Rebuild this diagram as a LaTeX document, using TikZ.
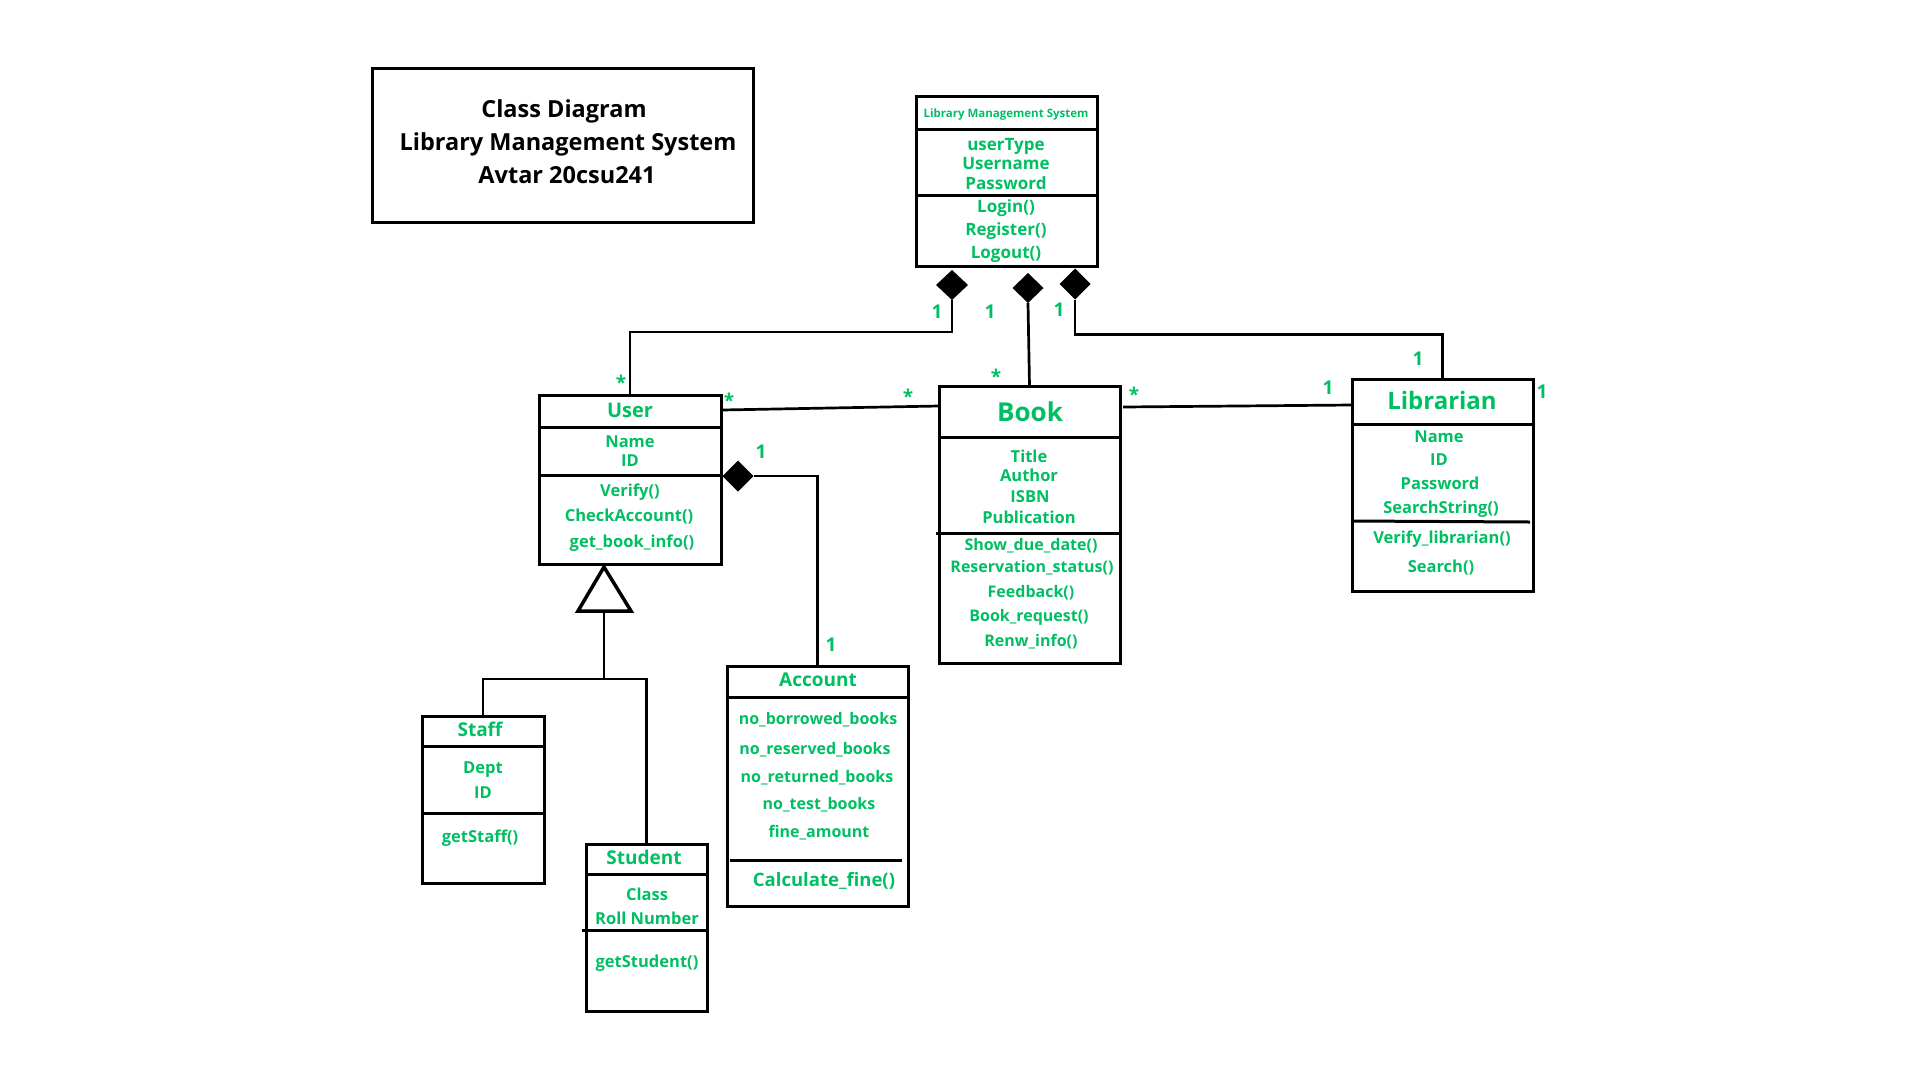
\documentclass[tikz,border=0pt]{standalone}
\usepackage{fontspec}
\setmainfont{Open Sans}
\usetikzlibrary{shapes.geometric,calc}
\definecolor{umlgreen}{HTML}{00BF63}
\tikzset{
  box/.style={draw=black, line width=3pt, fill=none, inner sep=0pt, outer sep=0pt},
  conn/.style={draw=black, line width=2.7pt},
  sepline/.style={draw=black, line width=3pt},
  dmd/.style={shape=diamond, fill=black, draw=none, inner sep=0pt, outer sep=0pt},
  gt/.style={text=umlgreen, inner sep=0pt, anchor=base},
  bt/.style={text=black, inner sep=0pt, anchor=base},
}
\newcommand\gtx[5]{\node[gt, font=\fontsize{#4}{#4}\selectfont\bfseries] (#1) at (#2,{#3+0.36*#4}) {#5};}
\newcommand\mstar[4]{\node[gt, font=\fontsize{#4}{#4}\selectfont\bfseries] (#1) at (#2,{#3+0.55*#4}) {*};}
\newcommand\umlbox[5]{\node[box, minimum width={(#4)-(#2)}, minimum height={(#5)-(#3)}] (#1) at ({((#2)+(#4))/2},{((#3)+(#5))/2}) {};}
\begin{document}
\begin{tikzpicture}[x=1pt,y=-1pt]
\useasboundingbox (0,0) rectangle (1920,1080);
\fill[white] (0,0) rectangle (1920,1080);

% title box
\umlbox{title}{372}{68}{753}{222}
\node[bt, font=\fontsize{23.5}{23.5}\selectfont\bfseries] (t1) at (564,117) {Class Diagram};
\node[bt, font=\fontsize{23.5}{23.5}\selectfont\bfseries] (t2) at (568,150) {Library Management System};
\node[bt, font=\fontsize{23.5}{23.5}\selectfont\bfseries] (t3) at (567,183) {Avtar 20csu241};

% LMS
\umlbox{lms}{916}{96}{1097}{266}
\draw[sepline] (916,129) -- (1097,129);
\draw[sepline] (916,195) -- (1097,195);
\gtx{lmsT}{1006}{113}{11.5}{Library Management System}
\gtx{lmsA1}{1006}{144}{17}{userType}
\gtx{lmsA2}{1006}{163}{17}{Username}
\gtx{lmsA3}{1006}{183}{17}{Password}
\gtx{lmsM1}{1006}{206}{17}{Login()}
\gtx{lmsM2}{1006}{229}{17}{Register()}
\gtx{lmsM3}{1006}{252}{17}{Logout()}

% User
\umlbox{user}{539}{395}{721}{564}
\draw[sepline] (539,427) -- (721,427);
\draw[sepline] (539,475) -- (721,475);
\gtx{userT}{630}{410}{20}{User}
\gtx{userA1}{630}{442}{16.5}{Name}
\gtx{userA2}{630}{461}{16.5}{ID}
\gtx{userM1}{630}{491}{16.5}{Verify()}
\gtx{userM2}{629}{516}{16.5}{CheckAccount()}
\gtx{userM3}{632}{542}{16.5}{get\_book\_info()}

% Book
\umlbox{book}{939}{386}{1120}{663}
\draw[sepline] (939,437) -- (1122,437);
\draw[sepline] (936,533) -- (1120,533);
\gtx{bookT}{1030}{412}{26}{Book}
\gtx{bookA1}{1029}{457}{16.5}{Title}
\gtx{bookA2}{1029}{476}{16.5}{Author}
\gtx{bookA3}{1030}{497}{16.5}{ISBN}
\gtx{bookA4}{1029}{518}{16.5}{Publication}
\gtx{bookM1}{1031}{545}{16}{Show\_due\_date()}
\gtx{bookM2}{1032}{567}{16}{Reservation\_status()}
\gtx{bookM3}{1031}{592}{16}{Feedback()}
\gtx{bookM4}{1029}{616}{16}{Book\_request()}
\gtx{bookM5}{1031}{641}{16}{Renw\_info()}

% Librarian
\umlbox{lib}{1352}{379}{1533}{591}
\draw[sepline] (1352,424) -- (1533,424);
\draw[sepline] (1352,521) -- (1530,522);
\gtx{libT}{1442}{401}{24}{Librarian}
\gtx{libA1}{1439}{437}{16.5}{Name}
\gtx{libA2}{1439}{460}{16.5}{ID}
\gtx{libA3}{1440}{484}{16.5}{Password}
\gtx{libA4}{1441}{508}{16.5}{SearchString()}
\gtx{libM1}{1442}{538}{16.5}{Verify\_librarian()}
\gtx{libM2}{1441}{567}{16.5}{Search()}

% Staff
\umlbox{staff}{422}{716}{544}{883}
\draw[sepline] (422,746) -- (544,746);
\draw[sepline] (422,813) -- (544,813);
\gtx{staffT}{480}{730}{19}{Staff}
\gtx{staffA1}{483}{768}{16.5}{Dept}
\gtx{staffA2}{483}{793}{16.5}{ID}
\gtx{staffM1}{480}{837}{16.5}{getStaff()}

% Student
\umlbox{student}{586}{844}{707}{1011}
\draw[sepline] (586,874) -- (707,874);
\draw[sepline] (582,930) -- (707,930);
\gtx{studT}{644}{858}{19}{Student}
\gtx{studA1}{647}{895}{16.5}{Class}
\gtx{studA2}{647}{919}{16.5}{Roll Number}
\gtx{studM1}{647}{962}{16.5}{getStudent()}

% Account
\umlbox{account}{727}{666}{908}{906}
\draw[sepline] (727,697) -- (908,697);
\draw[sepline] (730,860) -- (902,860);
\gtx{accT}{818}{680}{19}{Account}
\gtx{accA1}{818}{719}{16}{no\_borrowed\_books}
\gtx{accA2}{815}{749}{16}{no\_reserved\_books}
\gtx{accA3}{817}{777}{16}{no\_returned\_books}
\gtx{accA4}{819}{804}{16}{no\_test\_books}
\gtx{accA5}{819}{832}{16}{fine\_amount}
\gtx{accM1}{824}{880}{18.5}{Calculate\_fine()}

% composition diamonds
\node[dmd, minimum width=32, minimum height=30] (d1) at (952,285) {};
\node[dmd, minimum width=31, minimum height=30] (d2) at (1028,288) {};
\node[dmd, minimum width=31, minimum height=31] (d3) at (1075,284) {};
\node[dmd, minimum width=31, minimum height=31] (d4) at (738,476) {};

% connectors
\draw[conn] (d1.south) -- ++(0,32) -| (user.north);
\draw[conn] (d2.south) -- (book.north);
\draw[conn] (d3.south) -- ++(0,35) -| (lib.north);
\draw[conn] ($(user.north east)+(1,15)$) -- ($(book.north west)+(0,20)$);
\draw[conn] ($(book.north east)+(3,21)$) -- ($(lib.north west)+(0,26)$);
\draw[conn] (d4.east) -| (account.north);

% generalization
\draw[line width=3.5pt, line join=miter, fill=white] (604,567) -- (631,611) -- (578,611) -- cycle;
\coordinate (gen) at (604,613);
\coordinate (gj) at (604,679);
\draw[conn] (gen) -- (gj);
\draw[conn] (staff.north) |- (gj) -| (student.north);

% multiplicities
\gtx{m1}{937}{312}{19}{1}
\gtx{m2}{990}{312}{19}{1}
\gtx{m3}{1059}{310}{19}{1}
\mstar{s1}{621}{379}{19}
\mstar{s2}{729}{397}{19}
\mstar{s3}{908}{393}{19}
\mstar{s4}{996}{373}{19}
\mstar{s5}{1134}{391}{19}
\gtx{m4}{1328}{388}{19}{1}
\gtx{m5}{1418}{359}{19}{1}
\gtx{m6}{1542}{392}{19}{1}
\gtx{m7}{761}{452}{19}{1}
\gtx{m8}{831}{645}{19}{1}
\end{tikzpicture}
\end{document}
